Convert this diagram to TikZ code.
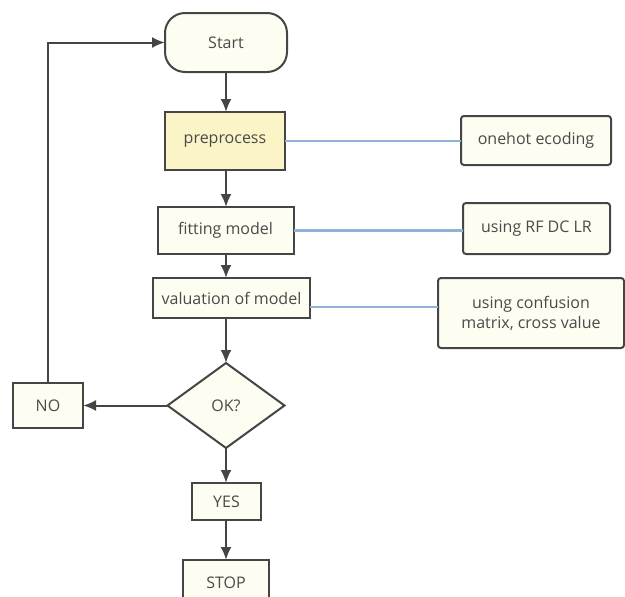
\documentclass[tikz,border=0pt]{standalone}
\usepackage{fontspec}
\setmainfont{Open Sans}
\usepackage{tikz}
\usetikzlibrary{shapes.geometric, arrows.meta, calc}
\usepackage{xcolor}

\definecolor{boxfill}{HTML}{FDFDF1}
\definecolor{prepfill}{HTML}{FBF4C6}
\definecolor{edge}{HTML}{454545}
\definecolor{ink}{HTML}{4A4A4A}
\definecolor{note}{HTML}{8DB3D8}

\begin{document}
\begin{tikzpicture}[x=1pt, y=-1pt, font=\fontsize{16}{20}\selectfont]

        % 1. Page frame (pixel units, y runs downwards)
        \useasboundingbox (0,0) rectangle (625,597);

        % 2. Styles for boxes and connectors
        \tikzset{
            stepbox/.style={draw=edge, line width=2pt, fill=boxfill, text=ink,
                inner sep=0pt, outer sep=0pt, align=center},
            notebox/.style={stepbox, rounded corners=3pt},
            flow/.style={draw=edge, line width=2pt, -{Latex[length=13pt, width=11pt]}},
            link/.style={draw=note, line width=2.2pt}
        }

        % 3. Main column of the flow chart
        \node[stepbox, rounded corners=20pt, minimum width=122pt, minimum height=59pt] (start) at (226,42.5) {Start};
        \node[stepbox, fill=prepfill, minimum width=120pt, minimum height=58pt] (prep) at (225,141) {preprocess};
        \node[stepbox, minimum width=136pt, minimum height=47pt] (fit) at (225.5,230.5) {fitting model};
        \node[stepbox, minimum width=157pt, minimum height=40pt] (val) at (231.5,298) {valuation of model};
        \node[stepbox, diamond, aspect=1.38, minimum width=117pt, minimum height=85pt] (ok) at (226,405.5) {OK?};
        \node[stepbox, minimum width=69pt, minimum height=37pt] (yes) at (226.5,501.5) {YES};
        \node[stepbox, minimum width=86pt, minimum height=46pt] (stop) at (226,583) {STOP};
        \node[stepbox, minimum width=70pt, minimum height=45pt] (no) at (48,405.5) {NO};

        % 4. Notes on the right
        \node[notebox, minimum width=150pt, minimum height=49pt] (onehot) at (536,140.5) {onehot ecoding};
        \node[notebox, minimum width=147pt, minimum height=51pt] (rfdclr) at (536.5,228.5) {using RF DC LR};
        \node[notebox, minimum width=186pt, minimum height=70pt] (confusion) at (531,313) {using confusion\\matrix, cross value};

        % 5. Arrows down the column
        \draw[flow] (start.south -| ok) -- (prep.north -| ok);
        \draw[flow] (prep.south -| ok) -- (fit.north -| ok);
        \draw[flow] (fit.south -| ok) -- (val.north -| ok);
        \draw[flow] (val.south -| ok) -- (ok.north);
        \draw[flow] (ok.south) -- (yes.north -| ok);
        \draw[flow] (yes.south -| ok) -- (stop.north -| ok);

        % 6. NO branch loops back to Start
        \draw[flow] (ok.west) -- (no.east);
        \draw[flow] (no.north) |- (start.west);

        % 7. Note links
        \draw[link] (prep.east) -- (prep.east -| onehot.west);
        \draw[link] (fit.east) -- (fit.east -| rfdclr.west);
        \coordinate (valout) at ($(val.east)+(0,9)$);
        \draw[link] (valout) -- (valout -| confusion.west);

\end{tikzpicture}
\end{document}
